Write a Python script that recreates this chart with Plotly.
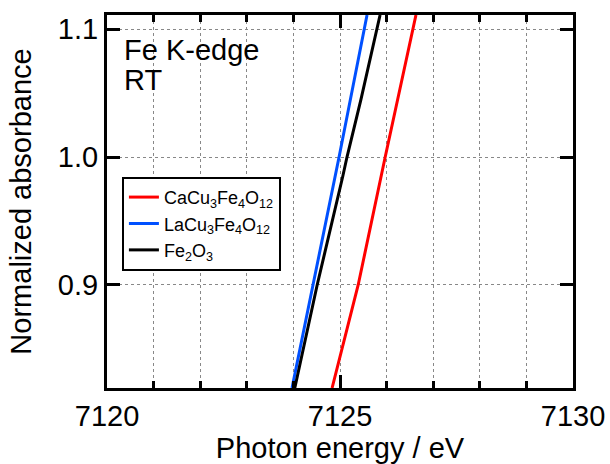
import plotly.graph_objects as go

# Data (photon energy in eV, normalized absorbance)
ca_energy = [7124.83, 7125.39, 7125.97, 7126.63]
ca_abs = [0.8195, 0.90, 1.00, 1.111]

la_energy = [7123.97, 7124.42, 7124.98, 7125.58]
la_abs = [0.8195, 0.90, 1.00, 1.111]

fe_energy = [7124.03, 7124.51, 7125.06, 7125.15, 7125.45, 7125.86]
fe_abs = [0.8195, 0.90, 0.985, 1.00, 1.045, 1.111]

series_names = ["CaCu<sub>3</sub>Fe<sub>4</sub>O<sub>12</sub>",
                "LaCu<sub>3</sub>Fe<sub>4</sub>O<sub>12</sub>",
                "Fe<sub>2</sub>O<sub>3</sub>"]
series_colors = ["#ff0000", "#0050ff", "#000000"]

x_range = [7120, 7130]
y_range = [0.8195, 1.111]
y_ticks = [0.9, 1.0, 1.1]
y_ticklabels = ["0.9", "1.0", "1.1"]

FONT = "Liberation Sans, Arial, Helvetica, sans-serif"
FS = 29

fig = go.Figure()
for xs, ys, name, col in zip([ca_energy, la_energy, fe_energy],
                             [ca_abs, la_abs, fe_abs],
                             series_names, series_colors):
    fig.add_trace(go.Scatter(x=xs, y=ys, mode="lines", name=name,
                             line=dict(color=col, width=3)))

grid = dict(showgrid=True, gridcolor="#888888", gridwidth=1, griddash="dot")

fig.update_xaxes(
    range=x_range, dtick=5, tick0=7120, ticks="inside", ticklen=13, tickwidth=3,
    tickcolor="black", showline=True, linecolor="black", linewidth=3,
    mirror="ticks", zeroline=False, automargin=False,
    minor=dict(dtick=1, ticks="inside", ticklen=7, tickwidth=3, tickcolor="black",
               showgrid=True, gridcolor="#888888", gridwidth=1, griddash="dot"),
    title=dict(text="Photon energy / eV", font=dict(size=FS, color="black", family=FONT),
               standoff=2),
    tickfont=dict(size=FS, color="black", family=FONT),
    **grid,
)
fig.update_yaxes(
    range=y_range, tickvals=y_ticks, ticktext=y_ticklabels, ticks="inside",
    ticklen=13, tickwidth=3, tickcolor="black", showline=True, linecolor="black",
    linewidth=3, mirror="ticks", zeroline=False, automargin=False,
    title=dict(text="Normalized absorbance", font=dict(size=FS, color="black", family=FONT),
               standoff=18),
    tickfont=dict(size=FS, color="black", family=FONT),
    **grid,
)

fig.add_annotation(text="Fe K-edge", xref="paper", yref="paper", x=0.033, y=0.955,
                   xanchor="left", yanchor="top", showarrow=False,
                   font=dict(size=FS, color="black", family=FONT))
fig.add_annotation(text="RT", xref="paper", yref="paper", x=0.033, y=0.875,
                   xanchor="left", yanchor="top", showarrow=False,
                   font=dict(size=FS, color="black", family=FONT))

fig.update_layout(
    width=610, height=464,
    margin=dict(l=107, r=37, t=15, b=76),
    paper_bgcolor="white", plot_bgcolor="white",
    font=dict(family=FONT, color="black"),
    legend=dict(x=0.032, y=0.566, xanchor="left", yanchor="top",
                bgcolor="white", bordercolor="black", borderwidth=2,
                font=dict(size=18, color="black", family=FONT),
                tracegroupgap=0, itemwidth=30),
    showlegend=True,
)

fig.write_html("out.html",
               config={"displayModeBar": False},
               post_script="document.body.style.margin='0px';document.body.style.padding='0px';")
